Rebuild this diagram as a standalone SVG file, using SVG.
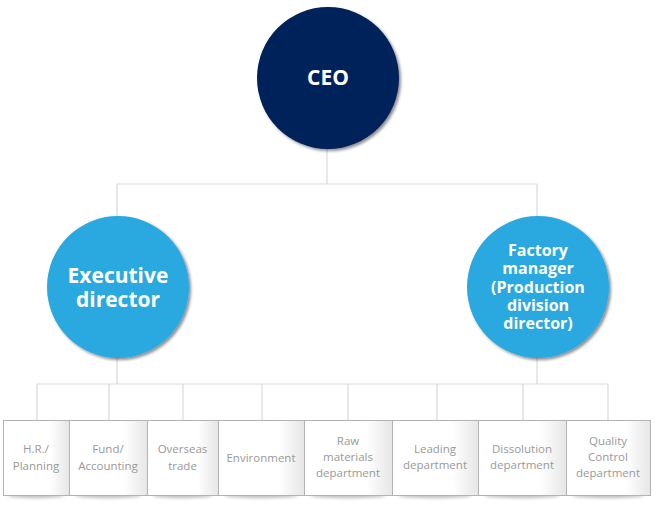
<svg xmlns="http://www.w3.org/2000/svg" width="655" height="508" viewBox="0 0 655 508">
<style>
.ln{stroke:#d9d9d9;stroke-width:1.2;fill:none}
.box{fill:url(#bg);stroke:#b3b3b3;stroke-width:1}
.bt{font-family:"Open Sans","Liberation Sans",sans-serif;font-size:11.5px;fill:#999999;text-anchor:middle}
.ct{font-family:"Open Sans","Liberation Sans",sans-serif;font-weight:bold;fill:#fff;text-anchor:middle}
</style>
<defs>
<linearGradient id="bg" x1="0" y1="0" x2="1" y2="0">
<stop offset="0" stop-color="#ffffff"/>
<stop offset="0.7" stop-color="#ffffff"/>
<stop offset="1" stop-color="#e6e6e6"/>
</linearGradient>
<filter id="cs" x="-20%" y="-20%" width="140%" height="140%">
<feGaussianBlur in="SourceAlpha" stdDeviation="1.5"/>
<feOffset dx="2" dy="2" result="b"/>
<feComponentTransfer><feFuncA type="linear" slope="0.45"/></feComponentTransfer>
<feMerge><feMergeNode/><feMergeNode in="SourceGraphic"/></feMerge>
</filter>
<filter id="sh" x="-10%" y="-200%" width="120%" height="500%">
<feGaussianBlur stdDeviation="1.8"/>
</filter>
</defs>
<g id="connectors">
<path class="ln" d="M327 148V184M117 184H537M117 184V217M537 184V217M117 358V384M537 358V384M37 384H608M37 384V420M109 384V420M183 384V420M262 384V420M348 384V420M437 384V420M523 384V420M608 384V420"/>
</g>
<g id="ceo">
<circle cx="328" cy="78" r="71" fill="#01205a" filter="url(#cs)"/>
<text class="ct" x="328" y="85" font-size="21">CEO</text>
</g>
<g id="executive">
<circle cx="118" cy="287" r="71" fill="#29a8e0" filter="url(#cs)"/>
<text class="ct" font-size="21"><tspan x="118" y="283">Executive</tspan><tspan x="118" y="307">director</tspan></text>
</g>
<g id="factory">
<circle cx="538" cy="287" r="71" fill="#29a8e0" filter="url(#cs)"/>
<text class="ct" font-size="16"><tspan x="538" y="256">Factory</tspan><tspan x="538" y="274">manager</tspan><tspan x="538" y="293">(Production</tspan><tspan x="538" y="311">division</tspan><tspan x="538" y="329">director)</tspan></text>
</g>
<g id="shadows" fill="#9a9a9a" opacity="0.6" filter="url(#sh)">
<ellipse cx="36" cy="496" rx="28" ry="2.2"/>
<ellipse cx="108" cy="496" rx="33" ry="2.2"/>
<ellipse cx="182.5" cy="496" rx="30" ry="2.2"/>
<ellipse cx="261" cy="496" rx="37" ry="2.2"/>
<ellipse cx="348" cy="496" rx="38" ry="2.2"/>
<ellipse cx="435" cy="496" rx="37" ry="2.2"/>
<ellipse cx="522" cy="496" rx="38" ry="2.2"/>
<ellipse cx="608" cy="496" rx="36" ry="2.2"/>
</g>
<g id="hr"><rect class="box" x="3.5" y="420.5" width="66" height="75"/><text class="bt" x="36" y="453">H.R./</text><text class="bt" x="36" y="470">Planning</text></g>
<g id="fund"><rect class="box" x="69.5" y="420.5" width="78" height="75"/><text class="bt" x="108" y="453">Fund/</text><text class="bt" x="108" y="470">Accounting</text></g>
<g id="overseas"><rect class="box" x="147.5" y="420.5" width="71" height="75"/><text class="bt" x="182.5" y="453">Overseas</text><text class="bt" x="182.5" y="470">trade</text></g>
<g id="environment"><rect class="box" x="218.5" y="420.5" width="86" height="75"/><text class="bt" x="261" y="462">Environment</text></g>
<g id="raw"><rect class="box" x="304.5" y="420.5" width="88" height="75"/><text class="bt" x="348" y="445">Raw</text><text class="bt" x="348" y="461">materials</text><text class="bt" x="348" y="477">department</text></g>
<g id="leading"><rect class="box" x="392.5" y="420.5" width="86" height="75"/><text class="bt" x="435" y="453">Leading</text><text class="bt" x="435" y="469">department</text></g>
<g id="dissolution"><rect class="box" x="478.5" y="420.5" width="88" height="75"/><text class="bt" x="522" y="453">Dissolution</text><text class="bt" x="522" y="469">department</text></g>
<g id="quality"><rect class="box" x="566.5" y="420.5" width="84" height="75"/><text class="bt" x="608" y="445">Quality</text><text class="bt" x="608" y="461">Control</text><text class="bt" x="608" y="477">department</text></g>
</svg>
